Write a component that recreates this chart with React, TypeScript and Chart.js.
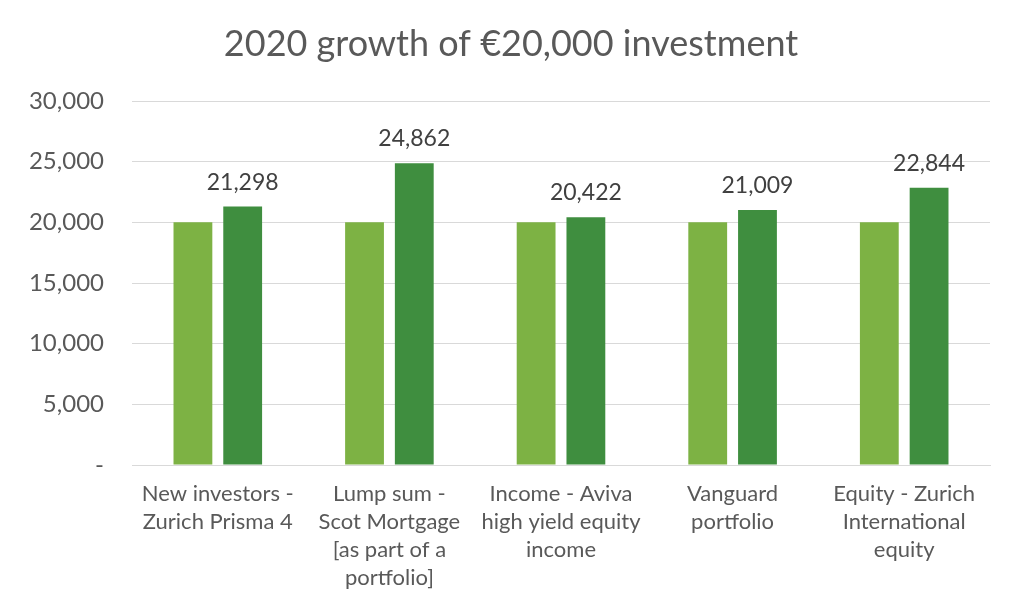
import React, { useEffect, useRef } from "react";
import { Chart, registerables } from "chart.js";
Chart.register(...registerables);

const title = "2020 growth of €20,000 investment";
const categories: string[][] = [
  ["New investors -", "Zurich Prisma 4"],
  ["Lump sum -", "Scot Mortgage", "[as part of a", "portfolio]"],
  ["Income - Aviva", "high yield equity", "income"],
  ["Vanguard", "portfolio"],
  ["Equity - Zurich", "International", "equity"],
];
const initialValues = [20000, 20000, 20000, 20000, 20000];
const grownValues = [21298, 24862, 20422, 21009, 22844];
const yTicks = [0, 5000, 10000, 15000, 20000, 25000, 30000];

const FONT = "Lato, 'Open Sans', sans-serif";
const TEXT = "#595959";

const fmt = (v: number) => (v === 0 ? "-" : v.toLocaleString("en-US"));

const labelPlugin = {
  id: "barLabels",
  afterDatasetsDraw(chart: any) {
    const ctx = chart.ctx;
    const meta = chart.getDatasetMeta(1);
    ctx.save();
    ctx.font = `23px ${FONT}`;
    ctx.fillStyle = "#404040";
    ctx.textAlign = "center";
    ctx.textBaseline = "alphabetic";
    meta.data.forEach((bar: any, i: number) => {
      ctx.fillText(fmt(grownValues[i]), bar.x, bar.y - 17);
    });
    ctx.restore();
  },
};

const titlePlugin = {
  id: "customTitle",
  afterDraw(chart: any) {
    const ctx = chart.ctx;
    ctx.save();
    ctx.font = `36px ${FONT}`;
    ctx.fillStyle = TEXT;
    ctx.textAlign = "center";
    ctx.textBaseline = "middle";
    ctx.fillText(title, 511, 44);
    ctx.restore();
  },
};

export default function App() {
  const ref = useRef<HTMLCanvasElement>(null);
  useEffect(() => {
    document.body.style.margin = "0";
    const chart = new Chart(ref.current!, {
      type: "bar",
      data: {
        labels: categories,
        datasets: [
          {
            label: "Initial",
            data: initialValues,
            backgroundColor: "#7DB244",
            categoryPercentage: 0.58,
            barPercentage: 0.78,
          },
          {
            label: "2020",
            data: grownValues,
            backgroundColor: "#3F8E3F",
            categoryPercentage: 0.58,
            barPercentage: 0.78,
          },
        ],
      },
      options: {
        animation: false,
        responsive: false,
        layout: { padding: { left: 0, right: 34, top: 101, bottom: 0 } },
        plugins: {
          legend: { display: false },
          tooltip: { enabled: false },
          title: { display: false },
        },
        scales: {
          x: {
            grid: { display: false },
            border: { color: "#d9d9d9", width: 1 },
            afterFit: (axis: any) => {
              axis.height = 146;
            },
            ticks: {
              color: TEXT,
              font: { family: FONT, size: 22, lineHeight: 1.27 },
              maxRotation: 0,
              autoSkip: false,
              padding: 7,
            },
          },
          y: {
            min: 0,
            max: 30000,
            afterBuildTicks: (axis: any) => {
              axis.ticks = yTicks.map((v) => ({ value: v }));
            },
            afterFit: (axis: any) => {
              axis.width = 132;
            },
            grid: { color: "#d9d9d9", lineWidth: 1, drawTicks: false },
            border: { display: false },
            ticks: {
              color: TEXT,
              font: { family: FONT, size: 24 },
              padding: 28,
              callback: (v: any) => fmt(Number(v)),
            },
          },
        },
      },
      plugins: [labelPlugin, titlePlugin],
    });
    return () => chart.destroy();
  }, []);
  return <canvas ref={ref} width={1024} height={611} style={{ display: "block" }} />;
}
